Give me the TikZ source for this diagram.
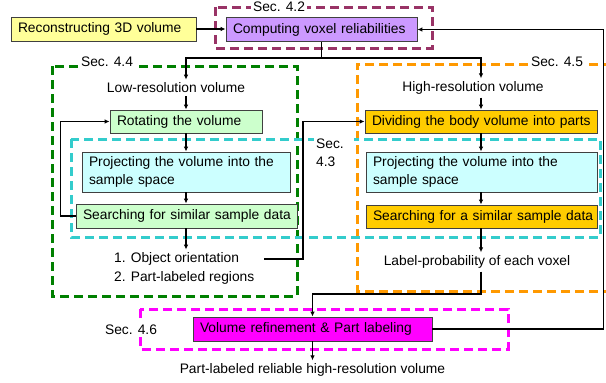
\documentclass[tikz,border=0pt]{standalone}
\usepackage{fontspec}
\setmainfont{Liberation Sans}
\usetikzlibrary{arrows.meta,calc}
\definecolor{cRecon}{HTML}{FFFF99}
\definecolor{cComp}{HTML}{CC99FF}
\definecolor{cGreenBox}{HTML}{CCFFCC}
\definecolor{cCyanBox}{HTML}{CCFFFF}
\definecolor{cOrangeBox}{HTML}{FFCC00}
\definecolor{cMagBox}{HTML}{FF00FF}
\definecolor{cMaroon}{HTML}{993366}
\definecolor{cGreen}{HTML}{008000}
\definecolor{cOrange}{HTML}{FF9900}
\definecolor{cCyan}{HTML}{33CCCC}
\definecolor{cMag}{HTML}{FF00FF}
\begin{document}
\begin{tikzpicture}[x=1pt,y=-1pt,font=\fontsize{13.8}{17.5}\selectfont]
\tikzset{
  box/.style={draw=black!75, line width=0.8pt, inner xsep=7pt, inner ysep=0pt, align=left},
  plain/.style={inner xsep=0pt, inner ysep=3pt, align=left},
  conn/.style={line width=1.2pt, -{Latex[length=5pt,width=4.5pt]}},
  wire/.style={line width=1.2pt},
  frame/.style={line width=3pt, dash pattern=on 9pt off 5pt},
  seclabel/.style={fill=white, inner sep=2pt, align=left},
}
\useasboundingbox (0,0) rectangle (606,383);

% dashed section frames
\draw[frame, cMaroon] (215,7) rectangle (432,48);
\draw[frame, cGreen] (52,66) rectangle (297,296);
\draw[frame, cOrange] (612,64) -- (357,64) -- (357,291) -- (612,291);
\draw[frame, cCyan] (71,139) rectangle (600,237);
\draw[frame, cMag] (140,309) rectangle (508,349);

% boxes
\node[box, fill=cRecon, text width=171pt, minimum height=24pt] (recon) at (103.5,29) {\mbox{Reconstructing 3D volume}};
\node[box, fill=cComp, text width=177pt, minimum height=24pt] (comp) at (321.5,29.5) {\mbox{Computing voxel reliabilities}};
\node[box, fill=cGreenBox, text width=138pt, minimum height=23pt] (rot) at (186,121.5) {\mbox{Rotating the volume}};
\node[box, fill=cCyanBox, text width=194pt, minimum height=40pt] (projL) at (186,172) {\mbox{Projecting the volume into the}\\\mbox{sample space}};
\node[box, fill=cGreenBox, text width=207pt, minimum height=24pt] (searchL) at (186.5,216) {\mbox{Searching for similar sample data}};
\node[box, fill=cOrangeBox, text width=218pt, minimum height=23pt] (div) at (481,121.5) {\mbox{Dividing the body volume into parts}};
\node[box, fill=cCyanBox, text width=217pt, minimum height=40pt] (projR) at (481.5,172) {\mbox{Projecting the volume into the}\\\mbox{sample space}};
\node[box, fill=cOrangeBox, text width=217pt, minimum height=23pt] (searchR) at (481.5,216.5) {\mbox{Searching for a similar sample data}};
\node[box, fill=cMagBox, text width=225pt, minimum height=24pt] (volref) at (312.5,329) {\mbox{Volume refinement \& Part labeling}};

% plain texts
\node[plain] (low) at (176,88) {Low-resolution volume};
\node[plain] (high) at (473,88) {High-resolution volume};
\node[plain, anchor=west] (orient) at (114,268.5) {1. Object orientation\\[1pt]2. Part-labeled regions};
\node[plain] (labprob) at (477,262) {Label-probability of each voxel};
\node[plain] (final) at (312.5,370) {Part-labeled reliable high-resolution volume};

% section labels
\node[seclabel] (s42) at (279,7) {Sec. 4.2};
\node[seclabel] (s44) at (107,62) {Sec. 4.4};
\node[seclabel] (s45) at (557,62) {Sec. 4.5};
\node[seclabel, anchor=west, text width=36pt] (s43) at (314,152.5) {Sec.\\4.3};
\node[seclabel] (s46) at (131,330) {Sec. 4.6};

% connectors
\draw[conn] (recon.east) -- (recon.east -| comp.west);
\coordinate (split) at (321.5,58);
\draw[wire] (comp.south) -- (split);
\draw[conn] (split) -| (low.north -| rot.north);
\draw[conn] (split) -| (high.north -| div.north);
\draw[conn] (low.south -| rot.north) -- (rot.north);
\draw[conn] (high.south -| div.north) -- (div.north);
\draw[conn] (rot.south) -- (projL.north);
\draw[conn] (projL.south) -- (projL.south |- searchL.north);
\draw[conn] (searchL.west) -- ++(-15,0) |- (rot.west);
\draw[conn] (rot.south |- searchL.south) -- (rot.south |- orient.north);
\coordinate (oo) at (264,259);
\draw[conn] (oo) -- ++(39,0) |- (div.west);
\draw[conn] (div.south) -- (div.south |- projR.north);
\draw[conn] (div.south |- projR.south) -- (div.south |- searchR.north);
\draw[conn] (div.south |- searchR.south) -- (div.south |- labprob.north);
\coordinate (j2) at (312.5,294);
\draw[conn] (div.south |- labprob.south) |- (j2) -- (volref.north);
\draw[conn] (volref.south) -- (final.north);
\draw[conn] (volref.east) -- ++(171,0) |- (comp.east);
\end{tikzpicture}
\end{document}
